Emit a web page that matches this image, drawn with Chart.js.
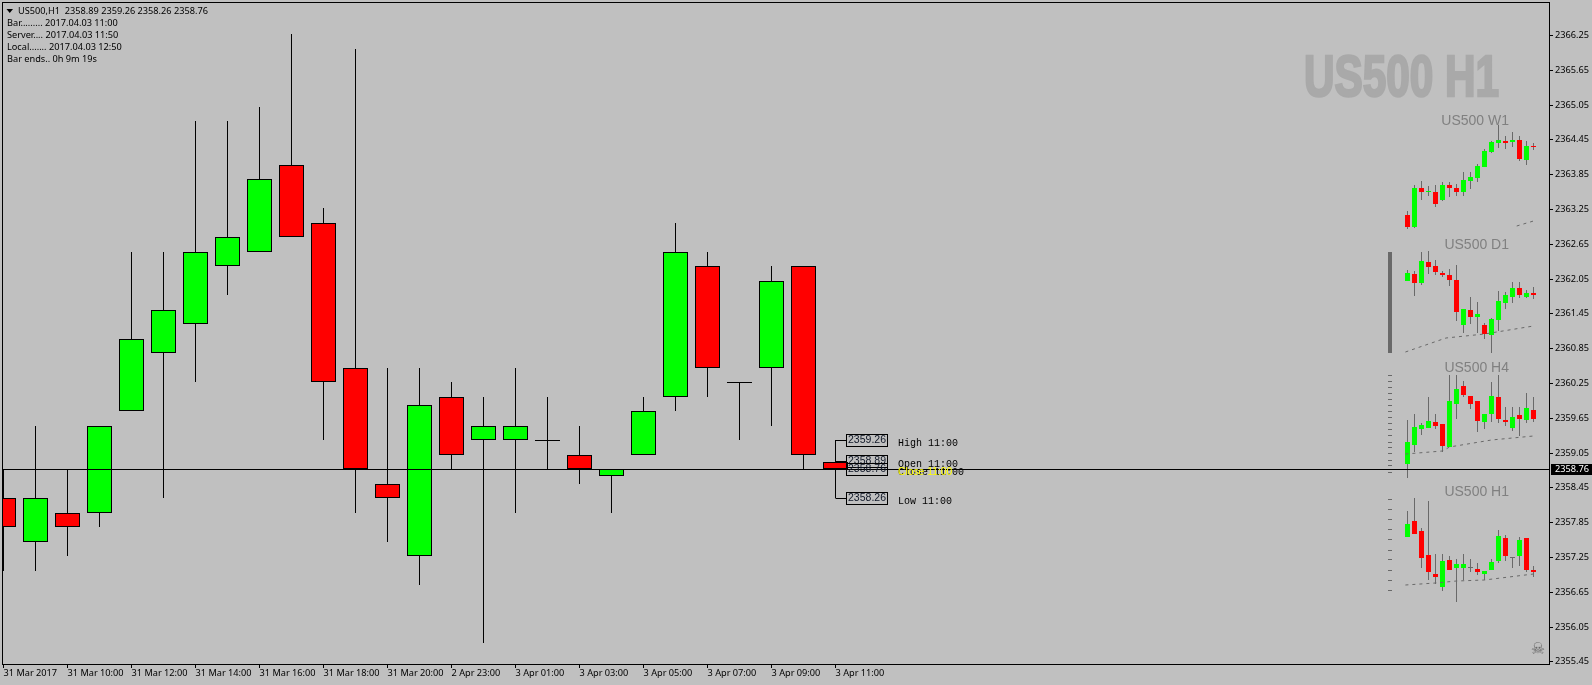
<!DOCTYPE html>
<html>
<head>
<meta charset="utf-8">
<title>US500,H1</title>
<script src="https://cdn.jsdelivr.net/npm/chart.js@4/dist/chart.umd.min.js"></script>
<style>
  html, body { margin: 0; padding: 0; background: #c0c0c0; overflow: hidden; }
  #wrap { width: 1592px; height: 685px; }
</style>
</head>
<body>
<div id="wrap"><canvas id="chart" width="1592" height="685"></canvas></div>
<script>
const xLabels = ["31 Mar 2017", "31 Mar 10:00", "31 Mar 12:00", "31 Mar 14:00", "31 Mar 16:00", "31 Mar 18:00", "31 Mar 20:00",
  "2 Apr 23:00", "3 Apr 01:00", "3 Apr 03:00", "3 Apr 05:00", "3 Apr 07:00", "3 Apr 09:00", "3 Apr 11:00"];
const yTicks = [2355.45, 2356.05, 2356.65, 2357.25, 2357.85, 2358.45, 2359.05, 2359.65, 2360.25, 2360.85, 2361.45,
  2362.05, 2362.65, 2363.25, 2363.85, 2364.45, 2365.05, 2365.65, 2366.25];
const lastPrice = 2358.76;

// main H1 candles
const barOpen = [2358.26, 2357.51, 2358.01, 2358.01, 2359.76, 2360.76, 2361.26, 2362.26, 2362.51, 2364.01, 2363.01, 2360.51, 2358.51, 2357.26,
  2360.01, 2359.26, 2359.26, 2359.26, 2359.01, 2358.64, 2359.01, 2360.01, 2362.26, 2360.26, 2360.51, 2362.26, 2358.89];
const barHigh = [2358.76, 2359.51, 2358.76, 2359.51, 2362.51, 2362.51, 2364.76, 2364.76, 2365.01, 2366.26, 2363.26, 2366.01, 2360.51, 2360.51,
  2360.26, 2360.01, 2360.51, 2360.01, 2359.51, 2358.76, 2360.01, 2363.01, 2362.51, 2360.26, 2362.26, 2362.26, 2359.26];
const barLow = [2357.01, 2357.01, 2357.26, 2357.76, 2359.76, 2358.26, 2360.26, 2361.76, 2362.51, 2362.76, 2359.26, 2358.01, 2357.51, 2356.76,
  2358.76, 2355.76, 2358.01, 2358.76, 2358.51, 2358.01, 2359.01, 2359.76, 2360.01, 2359.26, 2359.51, 2358.76, 2358.26];
const barClose = [2357.76, 2358.26, 2357.76, 2359.51, 2361.01, 2361.50, 2362.51, 2362.76, 2363.76, 2362.76, 2360.26, 2358.76, 2358.26, 2359.87,
  2359.01, 2359.51, 2359.51, 2359.26, 2358.76, 2358.76, 2359.76, 2362.51, 2360.51, 2360.26, 2362.01, 2359.01, 2358.76];

// mini panels, values read against the right-hand axis
const w1Open = [2363.15, 2362.94, 2363.61, 2363.54, 2363.55, 2363.40, 2363.66, 2363.62, 2363.54, 2363.73, 2363.78, 2363.97, 2364.23, 2364.39, 2364.43, 2364.41, 2364.44, 2364.09, 2364.34];
const w1High = [2363.22, 2363.66, 2363.73, 2363.64, 2363.66, 2363.71, 2363.71, 2363.68, 2363.88, 2363.88, 2364.02, 2364.29, 2364.43, 2364.69, 2364.51, 2364.58, 2364.51, 2364.43, 2364.39];
const w1Low = [2362.91, 2362.92, 2363.41, 2363.48, 2363.29, 2363.38, 2363.45, 2363.48, 2363.48, 2363.59, 2363.71, 2363.97, 2364.22, 2364.30, 2364.29, 2364.32, 2364.08, 2364.01, 2364.27];
const w1Close = [2362.94, 2363.61, 2363.54, 2363.55, 2363.34, 2363.66, 2363.61, 2363.54, 2363.75, 2363.80, 2363.99, 2364.25, 2364.41, 2364.44, 2364.39, 2364.44, 2364.11, 2364.34, 2364.32];
const w1TrendX = [15.6, 18];
const w1TrendY = [2362.95, 2363.04];

const d1Open = [2362.01, 2362.13, 2361.97, 2362.34, 2362.27, 2362.15, 2362.11, 2362.03, 2361.25, 2361.51, 2361.38, 2361.25, 2361.07, 2361.33, 2361.63, 2361.73, 2361.89, 2361.73, 2361.80];
const d1High = [2362.20, 2362.18, 2362.51, 2362.53, 2362.37, 2362.18, 2362.22, 2362.29, 2361.52, 2361.73, 2361.65, 2361.28, 2361.37, 2361.84, 2361.82, 2361.99, 2361.99, 2361.85, 2361.91];
const d1Low = [2362.01, 2361.75, 2361.94, 2362.13, 2362.11, 2362.08, 2361.92, 2361.32, 2361.12, 2361.26, 2361.11, 2361.00, 2360.76, 2361.14, 2361.52, 2361.63, 2361.71, 2361.71, 2361.70];
const d1Close = [2362.15, 2361.97, 2362.36, 2362.25, 2362.17, 2362.11, 2362.03, 2361.47, 2361.52, 2361.38, 2361.44, 2361.09, 2361.35, 2361.66, 2361.77, 2361.89, 2361.77, 2361.80, 2361.77];
const d1TrendX = [-0.3, 5.5, 11, 18];
const d1TrendY = [2360.79, 2361.03, 2361.09, 2361.23];
const d1ScaleBar = [2360.77, 2362.51];

const h4Open = [2358.85, 2359.18, 2359.46, 2359.47, 2359.58, 2359.54, 2359.14, 2359.89, 2360.19, 2360.03, 2359.94, 2359.58, 2359.72, 2360.01, 2359.61, 2359.47, 2359.70, 2359.61, 2359.79];
const h4High = [2359.61, 2359.72, 2359.56, 2360.00, 2359.72, 2359.54, 2360.39, 2360.39, 2360.29, 2360.03, 2359.94, 2359.72, 2360.26, 2360.39, 2359.84, 2359.84, 2359.84, 2360.08, 2360.00];
const h4Low = [2358.62, 2359.06, 2359.35, 2359.47, 2359.46, 2359.06, 2359.14, 2359.63, 2360.01, 2359.80, 2359.41, 2359.46, 2359.58, 2359.56, 2359.51, 2359.42, 2359.34, 2359.56, 2359.58];
const h4Close = [2359.23, 2359.49, 2359.53, 2359.60, 2359.51, 2359.16, 2359.94, 2360.15, 2360.05, 2359.89, 2359.60, 2359.72, 2360.03, 2359.63, 2359.58, 2359.67, 2359.63, 2359.82, 2359.63];
const h4TrendX = [-0.3, 5, 6, 12, 18];
const h4TrendY = [2359.03, 2359.08, 2359.15, 2359.27, 2359.33];
const h4ScaleTicks = [2360.38, 2360.27, 2360.17, 2360.07, 2359.96, 2359.86, 2359.75, 2359.65, 2359.55, 2359.44, 2359.34, 2359.23, 2359.13, 2359.03, 2358.92, 2358.82, 2358.71];

const h1Open = [2357.60, 2357.87, 2357.70, 2357.28, 2356.95, 2356.73, 2357.20, 2357.06, 2357.06, 2357.07, 2357.04, 2356.95, 2357.02, 2357.18, 2357.58, 2357.24, 2357.27, 2357.58, 2357.02];
const h1High = [2358.05, 2358.26, 2357.75, 2358.22, 2357.30, 2357.30, 2357.27, 2357.21, 2357.30, 2357.21, 2357.14, 2357.01, 2357.21, 2357.72, 2357.63, 2357.24, 2357.60, 2357.58, 2357.09];
const h1Low = [2357.60, 2357.65, 2357.06, 2356.85, 2356.78, 2356.66, 2357.02, 2356.48, 2356.85, 2356.99, 2356.94, 2356.85, 2357.02, 2357.14, 2357.18, 2357.06, 2357.09, 2356.99, 2356.90];
const h1Close = [2357.82, 2357.65, 2357.23, 2356.99, 2356.90, 2357.18, 2357.02, 2357.13, 2357.13, 2357.07, 2356.99, 2357.01, 2357.16, 2357.61, 2357.27, 2357.24, 2357.54, 2357.02, 2356.99];
const h1TrendX = [-0.3, 4, 7, 11, 18];
const h1TrendY = [2356.76, 2356.81, 2356.83, 2356.86, 2356.95];
const h1ScaleTicks = [2358.24, 2358.07, 2357.89, 2357.72, 2357.55, 2357.37, 2357.20, 2357.02, 2356.85, 2356.68];

const infoLines = ["Bar......... 2017.04.03 11:00", "Server.... 2017.04.03 11:50", "Local....... 2017.04.03 12:50", "Bar ends.. 0h 9m 19s"];
const headerText = "US500,H1  2358.89 2359.26 2358.26 2358.76";

const BG = "#c0c0c0";
const UP = "#00ff00";
const DOWN = "#ff0000";
const WICK_GREY = "#696969";
const AXIS_FONT = '9.2px "Noto Sans"';

function snapAxis(scale, offset) {
  if (scale._snapped) return;
  const base = scale.getPixelForValue.bind(scale);
  scale.getPixelForValue = (v) => (offset ? Math.floor(base(v)) + offset : Math.round(base(v)));
  scale._snapped = true;
}

function candleSets(open, high, low, close, o) {
  const idx = open.map((_, i) => i);
  const bodies = idx.filter((i) => open[i] !== close[i]);
  const dojis = idx.filter((i) => open[i] === close[i]);
  return [
    {
      type: "bar", xAxisID: o.xAxis, yAxisID: "y", grouped: false, order: 5,
      data: idx.map((i) => ({ x: i, y: [low[i], high[i]] })),
      backgroundColor: o.wick, barThickness: 1, borderWidth: 0, inflateAmount: 0,
    },
    {
      type: "bar", xAxisID: o.xAxis, yAxisID: "y", grouped: false, order: 4,
      data: bodies.map((i) => ({ x: i, y: [Math.min(open[i], close[i]), Math.max(open[i], close[i])] })),
      backgroundColor: bodies.map((i) => (close[i] > open[i] ? UP : DOWN)),
      borderColor: "#000", borderWidth: o.border, borderSkipped: false,
      barThickness: o.width, inflateAmount: 0, minBarLength: 1,
    },
    {
      type: "line", xAxisID: o.xAxis, yAxisID: "yLine", showLine: false, order: 3,
      data: dojis.map((i) => ({ x: i, y: close[i] })),
      pointStyle: "line", pointRadius: o.width / 2, pointBorderColor: o.wick, pointBorderWidth: 1,
    },
  ];
}

function trendSet(xs, ys) {
  return {
    type: "line", xAxisID: "xMini", yAxisID: "y", order: 2,
    data: xs.map((x, i) => ({ x, y: ys[i] })),
    borderColor: WICK_GREY, borderWidth: 1, borderDash: [3, 4], pointRadius: 0, tension: 0,
  };
}

function scaleTickSet(values) {
  return {
    type: "line", xAxisID: "xMini", yAxisID: "yLine", showLine: false, order: 2,
    data: values.map((y) => ({ x: -2.5, y })),
    pointStyle: "line", pointRadius: 2, pointBorderColor: WICK_GREY, pointBorderWidth: 1,
  };
}

const labelPrices = [
  { price: 2359.26, box: 440.5, name: "High 11:00" },
  { price: 2358.89, box: 461.5, name: "Open 11:00" },
  { price: 2358.76, box: 469.5, name: "Close 11:00" },
  { price: 2358.26, box: 498.5, name: "Low 11:00" },
];

const miniOpts = { xAxis: "xMini", wick: WICK_GREY, width: 5, border: 0 };

const datasets = [
  {
    type: "line", xAxisID: "x", yAxisID: "yLine", order: 0,
    data: [{ x: -1, y: lastPrice }, { x: 49, y: lastPrice }],
    borderColor: "#000", borderWidth: 1, pointRadius: 0,
  },
  ...candleSets(barOpen, barHigh, barLow, barClose, { xAxis: "x", wick: "#000", width: 25, border: 1 }),
  ...labelPrices.map((l) => ({
    type: "line", xAxisID: "x", yAxisID: "yLine", order: 1,
    data: [{ x: 26, y: l.price }, { x: 26.33, y: l.price }],
    borderColor: "#000", borderWidth: 1, pointRadius: 0,
  })),
  ...candleSets(w1Open, w1High, w1Low, w1Close, miniOpts),
  ...candleSets(d1Open, d1High, d1Low, d1Close, miniOpts),
  ...candleSets(h4Open, h4High, h4Low, h4Close, miniOpts),
  ...candleSets(h1Open, h1High, h1Low, h1Close, miniOpts),
  trendSet(w1TrendX, w1TrendY),
  trendSet(d1TrendX, d1TrendY),
  trendSet(h4TrendX, h4TrendY),
  trendSet(h1TrendX, h1TrendY),
  {
    type: "bar", xAxisID: "xMini", yAxisID: "y", grouped: false, order: 2,
    data: [{ x: -2.5, y: d1ScaleBar }],
    backgroundColor: WICK_GREY, barThickness: 4, borderWidth: 0, inflateAmount: 0,
  },
  scaleTickSet(h4ScaleTicks),
  scaleTickSet(h1ScaleTicks),
];

const overlay = {
  id: "overlay",
  beforeDraw(chart) {
    const { ctx, width, height } = chart;
    ctx.save();
    ctx.fillStyle = BG;
    ctx.fillRect(0, 0, width, height);
    // big symbol watermark, squeezed like the original heavy face
    ctx.fillStyle = "#a9a9a9";
    ctx.font = 'bold 57px "Liberation Sans"';
    ctx.textBaseline = "alphabetic";
    ctx.translate(1304, 96);
    ctx.scale(0.742, 1);
    ctx.lineWidth = 2.5;
    ctx.strokeStyle = "#a9a9a9";
    ctx.strokeText("US500 H1", 0, 0);
    ctx.fillText("US500 H1", 0, 0);
    ctx.restore();
  },
  afterDraw(chart) {
    const { ctx } = chart;
    ctx.save();
    ctx.strokeStyle = "#000";
    ctx.lineWidth = 1;
    ctx.strokeRect(2.5, 2.5, 1547, 662);

    // header + info block
    ctx.fillStyle = "#000";
    ctx.beginPath();
    ctx.moveTo(6.5, 9);
    ctx.lineTo(13, 9);
    ctx.lineTo(9.75, 13);
    ctx.closePath();
    ctx.fill();
    ctx.font = AXIS_FONT;
    ctx.textBaseline = "middle";
    ctx.textAlign = "left";
    ctx.fillText(headerText, 18, 11);
    infoLines.forEach((t, i) => ctx.fillText(t, 7, 23.5 + i * 12));

    // mini panel titles
    ctx.fillStyle = "#808080";
    ctx.font = '14px "Liberation Sans"';
    ctx.textAlign = "right";
    ctx.fillText("US500 W1", 1509, 121);
    ctx.fillText("US500 D1", 1509, 245);
    ctx.fillText("US500 H4", 1509, 368);
    ctx.fillText("US500 H1", 1509, 492);

    ctx.fillStyle = WICK_GREY;
    ctx.font = '16px "DejaVu Sans"';
    ctx.textAlign = "center";
    ctx.fillText("\u2620", 1538, 650);

    // price boxes next to the live bar
    ctx.textAlign = "center";
    labelPrices.forEach((l) => {
      ctx.strokeStyle = "#000";
      ctx.strokeRect(846.5, l.box - 6, 41, 12);
      ctx.fillStyle = "#101828";
      ctx.font = '10.5px "Liberation Sans"';
      ctx.fillText(l.price.toFixed(2), 867, l.box);
    });
    ctx.textAlign = "left";
    ctx.font = '10px "Liberation Mono"';
    labelPrices.forEach((l) => {
      ctx.fillStyle = "#000";
      ctx.fillText(l.name, 898, l.box + 3);
    });
    // the close label is written twice in the original, a yellow one over the black
    ctx.fillStyle = "#ffff00";
    ctx.font = '10.3px "Liberation Sans"';
    ctx.fillText("Close 11:00", 898, 472.5);

    // current price tag on the axis
    ctx.fillStyle = "#000";
    ctx.fillRect(1551, 464, 41, 11);
    ctx.fillStyle = "#fff";
    ctx.font = AXIS_FONT;
    ctx.fillText(lastPrice.toFixed(2), 1555, 469.5);
    ctx.restore();
  },
};

new Chart(document.getElementById("chart"), {
  data: { datasets },
  plugins: [overlay],
  options: {
    responsive: false,
    animation: false,
    events: [],
    layout: { autoPadding: false, padding: { left: 3, top: 3, right: 0, bottom: 0 } },
    plugins: { legend: { display: false }, tooltip: { enabled: false }, title: { display: false } },
    scales: {
      x: {
        type: "linear",
        position: "bottom",
        offset: false,
        bounds: "data",
        min: -0.0156,
        max: 48.297,
        afterBuildTicks(axis) {
          axis.ticks = xLabels.map((_, i) => ({ value: i * 2 }));
        },
        afterFit(axis) {
          axis.height = 21;
          axis.paddingLeft = 0;
          axis.paddingRight = 0;
        },
        border: { display: false },
        grid: { offset: false, drawOnChartArea: false, color: "#000", tickLength: 4, tickWidth: 1 },
        ticks: {
          callback: (v) => xLabels[v / 2],
          autoSkip: false, maxRotation: 0, minRotation: 0, align: "start",
          color: "#000", padding: 0, font: { family: "Noto Sans", size: 9.2 },
        },
      },
      xMini: {
        type: "linear",
        display: false,
        offset: false,
        bounds: "data",
        min: (3 - 1407.5) / 7,
        max: (1549 - 1407.5) / 7,
      },
      y: {
        type: "linear",
        position: "right",
        bounds: "data",
        min: 2355.405,
        max: 2366.801,
        afterBuildTicks(axis) {
          axis.ticks = yTicks.map((value) => ({ value }));
        },
        afterFit(axis) {
          axis.width = 43;
          axis.paddingTop = 0;
          axis.paddingBottom = 0;
          snapAxis(axis, 0);
        },
        border: { display: false },
        grid: { drawOnChartArea: false, color: "#000", tickLength: 4, tickWidth: 1 },
        ticks: {
          callback: (v) => v.toFixed(2),
          autoSkip: false, color: "#000", padding: 2, font: { family: "Noto Sans", size: 9.2 },
        },
      },
      yLine: {
        type: "linear",
        display: false,
        bounds: "data",
        min: 2355.405,
        max: 2366.801,
        afterFit(axis) { snapAxis(axis, 0.5); },
      },
    },
  },
});
</script>
</body>
</html>
